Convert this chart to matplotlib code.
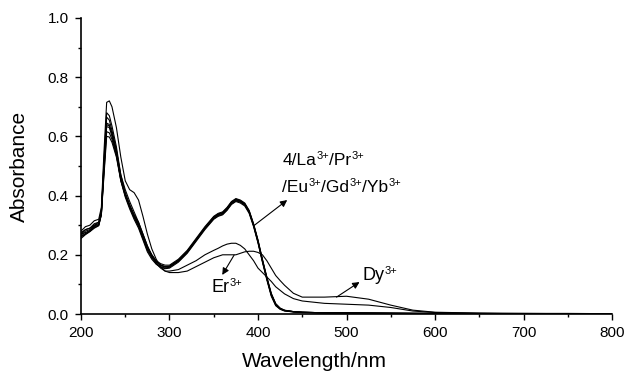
import matplotlib
matplotlib.use("Agg")
import matplotlib.pyplot as plt
from matplotlib.ticker import MultipleLocator, FormatStrFormatter
from matplotlib.transforms import offset_copy

plt.rcParams['font.family'] = ['Liberation Sans', 'DejaVu Sans']

# Wavelength grid (nm)
wavelength = [200, 205, 210, 215, 220,
              223, 226, 229, 232, 235,
              240, 245, 250, 255, 260,
              265, 270, 275, 280, 285,
              290, 295, 300, 310, 320,
              330, 340, 350, 355, 360,
              365, 370, 375, 380, 385,
              390, 395, 400, 405, 410,
              415, 420, 425, 430, 440,
              450, 475, 500, 525, 550,
              575, 600, 650, 700, 750,
              800]

# Main group: 4 / La3+ / Pr3+ / Eu3+ / Gd3+ / Yb3+
abs_4 = [0.275, 0.285, 0.29, 0.305, 0.31,
         0.35, 0.52, 0.68, 0.67, 0.635,
         0.565, 0.47, 0.41, 0.37, 0.335,
         0.305, 0.265, 0.225, 0.20, 0.18,
         0.17, 0.165, 0.165, 0.185, 0.215,
         0.255, 0.295, 0.33, 0.34, 0.345,
         0.36, 0.38, 0.39, 0.385, 0.375,
         0.35, 0.305, 0.25, 0.185, 0.125,
         0.07, 0.035, 0.02, 0.013, 0.008,
         0.006, 0.004, 0.004, 0.003, 0.003,
         0.002, 0.002, 0.002, 0.001, 0.001,
         0.001]
abs_La = [0.265, 0.28, 0.285, 0.30, 0.305,
          0.345, 0.51, 0.665, 0.655, 0.62,
          0.555, 0.46, 0.405, 0.365, 0.33,
          0.30, 0.26, 0.22, 0.195, 0.175,
          0.165, 0.16, 0.16, 0.18, 0.21,
          0.25, 0.29, 0.325, 0.335, 0.34,
          0.355, 0.375, 0.385, 0.38, 0.37,
          0.345, 0.30, 0.245, 0.18, 0.12,
          0.065, 0.032, 0.018, 0.012, 0.008,
          0.006, 0.004, 0.003, 0.003, 0.002,
          0.002, 0.002, 0.001, 0.001, 0.001,
          0.001]
abs_Pr = [0.26, 0.27, 0.28, 0.295, 0.30,
          0.34, 0.50, 0.645, 0.64, 0.61,
          0.545, 0.455, 0.40, 0.36, 0.325,
          0.295, 0.255, 0.215, 0.19, 0.17,
          0.16, 0.155, 0.158, 0.178, 0.208,
          0.248, 0.288, 0.322, 0.332, 0.337,
          0.352, 0.372, 0.382, 0.378, 0.368,
          0.343, 0.298, 0.242, 0.178, 0.118,
          0.063, 0.03, 0.017, 0.011, 0.007,
          0.005, 0.004, 0.003, 0.003, 0.002,
          0.002, 0.002, 0.001, 0.001, 0.001,
          0.001]
abs_Eu = [0.255, 0.268, 0.278, 0.29, 0.298,
          0.335, 0.49, 0.633, 0.63, 0.60,
          0.54, 0.45, 0.395, 0.355, 0.32,
          0.29, 0.25, 0.21, 0.185, 0.168,
          0.158, 0.153, 0.155, 0.175, 0.205,
          0.245, 0.285, 0.32, 0.33, 0.335,
          0.35, 0.37, 0.38, 0.375, 0.365,
          0.34, 0.295, 0.24, 0.175, 0.115,
          0.06, 0.028, 0.016, 0.01, 0.007,
          0.005, 0.003, 0.003, 0.002, 0.002,
          0.002, 0.001, 0.001, 0.001, 0.001,
          0.001]
abs_Gd = [0.27, 0.275, 0.282, 0.298, 0.302,
          0.338, 0.48, 0.616, 0.612, 0.59,
          0.535, 0.455, 0.405, 0.365, 0.335,
          0.31, 0.27, 0.23, 0.20, 0.178,
          0.166, 0.16, 0.162, 0.182, 0.212,
          0.252, 0.292, 0.328, 0.338, 0.343,
          0.358, 0.378, 0.388, 0.383, 0.373,
          0.348, 0.303, 0.248, 0.183, 0.123,
          0.068, 0.034, 0.019, 0.012, 0.008,
          0.006, 0.004, 0.004, 0.003, 0.003,
          0.002, 0.002, 0.002, 0.001, 0.001,
          0.001]
abs_Yb = [0.262, 0.272, 0.28, 0.292, 0.30,
          0.335, 0.47, 0.60, 0.598, 0.58,
          0.53, 0.45, 0.40, 0.362, 0.33,
          0.30, 0.262, 0.222, 0.196, 0.176,
          0.164, 0.158, 0.16, 0.18, 0.21,
          0.25, 0.29, 0.326, 0.336, 0.341,
          0.356, 0.376, 0.386, 0.381, 0.371,
          0.346, 0.301, 0.246, 0.181, 0.121,
          0.066, 0.033, 0.018, 0.012, 0.008,
          0.006, 0.004, 0.003, 0.003, 0.002,
          0.002, 0.002, 0.001, 0.001, 0.001,
          0.001]

# Dy3+ complex
abs_Dy = [0.28, 0.295, 0.30, 0.315, 0.32,
          0.36, 0.55, 0.715, 0.72, 0.70,
          0.63, 0.53, 0.45, 0.42, 0.41,
          0.385, 0.33, 0.27, 0.22, 0.185,
          0.16, 0.145, 0.14, 0.14, 0.145,
          0.16, 0.175, 0.19, 0.195, 0.20,
          0.20, 0.20, 0.20, 0.205, 0.21,
          0.212, 0.212, 0.208, 0.20, 0.18,
          0.155, 0.13, 0.113, 0.097, 0.07,
          0.057, 0.057, 0.06, 0.05, 0.03,
          0.013, 0.006, 0.003, 0.002, 0.002,
          0.001]

# Er3+ complex
abs_Er = [0.27, 0.285, 0.29, 0.30, 0.31,
          0.345, 0.50, 0.64, 0.635, 0.61,
          0.55, 0.47, 0.42, 0.38, 0.345,
          0.31, 0.27, 0.23, 0.195, 0.17,
          0.155, 0.145, 0.145, 0.15, 0.165,
          0.18, 0.20, 0.215, 0.222, 0.23,
          0.236, 0.239, 0.239, 0.232, 0.22,
          0.20, 0.18, 0.155, 0.14, 0.125,
          0.11, 0.092, 0.08, 0.068, 0.052,
          0.044, 0.036, 0.033, 0.03, 0.022,
          0.01, 0.005, 0.002, 0.002, 0.001,
          0.001]

series = [abs_4, abs_La, abs_Pr, abs_Eu, abs_Gd, abs_Yb, abs_Dy, abs_Er]

fig = plt.figure(figsize=(6.24, 3.71), dpi=100)
ax = fig.add_axes([81/624, 1 - 314/371, 531/624, 296/371])

for s in series:
    ax.plot(wavelength, s, color='black', lw=0.8)

ax.set_xlim(200, 800)
ax.set_ylim(0, 1.0)
ax.xaxis.set_major_locator(MultipleLocator(100))
ax.xaxis.set_minor_locator(MultipleLocator(50))
ax.yaxis.set_major_locator(MultipleLocator(0.2))
ax.yaxis.set_minor_locator(MultipleLocator(0.1))
ax.yaxis.set_major_formatter(FormatStrFormatter('%.1f'))

for side in ['top', 'right']:
    ax.spines[side].set_visible(False)
for side in ['left', 'bottom']:
    ax.spines[side].set_linewidth(1.2)

ax.tick_params(axis='both', which='major', direction='out', length=4.3, width=1.0,
               labelsize=11, pad=4.5)
ax.tick_params(axis='both', which='minor', direction='out', length=2.5, width=1.0)

ax.set_xlabel('Wavelength/nm', fontsize=15)
ax.set_ylabel('Absorbance', fontsize=15)
ax.xaxis.set_label_coords(0.44, -0.13)
ax.yaxis.set_label_coords(-0.098, 0.5)

arrow = dict(arrowstyle='-|>', lw=0.8, color='black', mutation_scale=10,
             shrinkA=0, shrinkB=0)

renderer = fig.canvas.get_renderer()


def rich_text(x, y, parts, size=12.5, sup_size=8.0, rise=4.3):
    """Draw text made of normal and superscript pieces, left to right."""
    offset = 0.0
    for txt, sup in parts:
        tr = offset_copy(ax.transData, fig=fig, x=offset, y=(rise if sup else 0.0),
                         units='points')
        t = ax.text(x, y, txt, fontsize=(sup_size if sup else size),
                    va='baseline', ha='left', transform=tr)
        w = t.get_window_extent(renderer=renderer).width * 72.0 / fig.dpi
        offset += w


ax.annotate('', xy=(433, 0.385), xytext=(396, 0.30), arrowprops=arrow)
rich_text(427.5, 0.503, [('4/La', False), ('3+', True), ('/Pr', False), ('3+', True)])
rich_text(427.5, 0.412, [('/Eu', False), ('3+', True), ('/Gd', False), ('3+', True),
                         ('/Yb', False), ('3+', True)])

ax.annotate('', xy=(359.6, 0.132), xytext=(373, 0.199), arrowprops=arrow)
rich_text(348, 0.074, [('Er', False), ('3+', True)], size=13)

ax.annotate('', xy=(514.7, 0.108), xytext=(488.7, 0.057), arrowprops=arrow)
rich_text(518, 0.115, [('Dy', False), ('3+', True)], size=13)

fig.savefig('out.png', dpi=100)
